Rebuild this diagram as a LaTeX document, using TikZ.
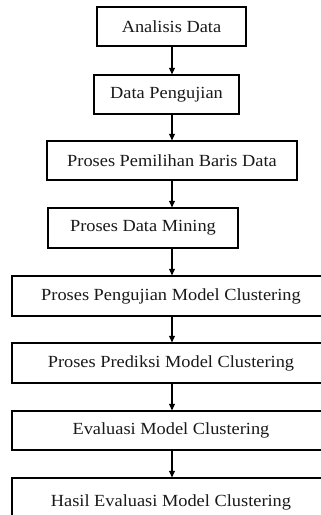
\documentclass[tikz,border=0pt]{standalone}
\usepackage{fontspec}
\setmainfont[FakeStretch=1.08]{Liberation Serif}
\usetikzlibrary{arrows.meta,calc}
\tikzset{
  box/.style={draw=black, line width=1.3pt, inner sep=0pt, align=center,
    font=\fontsize{17}{19}\selectfont, text=black!90},
  arr/.style={line width=1.2pt, -{Triangle[length=6.5pt,width=6pt]}}
}
\begin{document}
\begin{tikzpicture}[x=1pt,y=1pt]
\useasboundingbox (0,0) rectangle (321,515);
\clip (0,0) rectangle (321,515);
\node[box, minimum width=149, minimum height=39] (b1) at (171.5,488.5) {Analisis Data};
\node[box, minimum width=145, minimum height=39] (b2) at (166.5,420.5) {Data Pengujian};
\node[box, minimum width=250, minimum height=39] (b3) at (172,354.5) {Proses Pemilihan Baris Data};
\node[box, minimum width=190, minimum height=40] (b4) at (143,287) {Proses Data Mining};
\node[box, minimum width=318, minimum height=40] (b5) at (171,219) {Proses Pengujian Model Clustering};
\node[box, minimum width=318, minimum height=40] (b6) at (171,152) {Proses Prediksi Model Clustering};
\node[box, minimum width=318, minimum height=39] (b7) at (171,84.5) {Evaluasi Model Clustering};
\node[box, minimum width=318, minimum height=48] (b8) at (171,13) {Hasil Evaluasi Model Clustering};
\coordinate (ax) at (172,0);
\draw[arr] (b1.south -| ax) -- (b2.north -| ax);
\draw[arr] (b2.south -| ax) -- (b3.north -| ax);
\draw[arr] (b3.south -| ax) -- (b4.north -| ax);
\draw[arr] (b4.south -| ax) -- (b5.north -| ax);
\draw[arr] (b5.south -| ax) -- (b6.north -| ax);
\draw[arr] (b6.south -| ax) -- (b7.north -| ax);
\draw[arr] (b7.south -| ax) -- (b8.north -| ax);
\end{tikzpicture}
\end{document}
